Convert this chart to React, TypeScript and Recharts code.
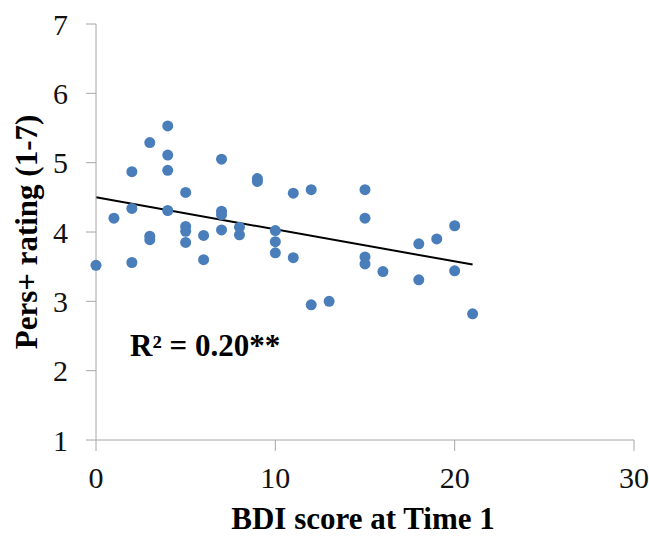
import {
  ScatterChart,
  Scatter,
  XAxis,
  YAxis,
  ReferenceLine,
  ReferenceDot,
  Label,
} from 'recharts';

// BDI score (x) and Pers+ rating (y)
const bdiScores = [
  0, 1, 2, 2, 2, 3, 3, 3, 4, 4, 4, 4, 5, 5, 5, 5, 6, 6, 7, 7, 7, 7, 8, 8, 9, 9,
  10, 10, 10, 11, 11, 12, 12, 13, 15, 15, 15, 15, 16, 18, 18, 19, 20, 20, 21,
];
const persRatings = [
  3.52, 4.2, 4.87, 4.34, 3.56, 5.29, 3.94, 3.89, 5.53, 5.11, 4.89, 4.31, 4.57,
  4.08, 4.01, 3.85, 3.95, 3.6, 5.05, 4.3, 4.25, 4.03, 4.07, 3.96, 4.77, 4.73,
  4.02, 3.86, 3.7, 4.56, 3.63, 4.61, 2.95, 3.0, 4.61, 4.2, 3.64, 3.54, 3.43,
  3.83, 3.31, 3.9, 4.09, 3.44, 2.82,
];

// linear trend line endpoints
const trendX = [0, 21];
const trendY = [4.5, 3.53];

const xTicks = [0, 10, 20, 30];
const yTicks = [1, 2, 3, 4, 5, 6, 7];

const annotationText = 'R² = 0.20**';
const annotationAt = { x: 1.9, y: 2.21 };

const FONT = '"Liberation Serif", "Times New Roman", serif';
const AXIS_GREY = '#a6a6a6';
const DOT_BLUE = '#4a7ebb';

const data = bdiScores.map((bdi, i) => ({ bdi, pers: persRatings[i] }));

function Dot(props: any) {
  return <circle cx={props.cx} cy={props.cy} r={5.5} fill={DOT_BLUE} />;
}

function XTitle(props: any) {
  const { x, y, width, height } = props.viewBox;
  return (
    <text
      x={x + width / 2 - 2}
      y={y + height - 8}
      textAnchor="middle"
      fontFamily={FONT}
      fontSize={31}
      fontWeight="bold"
      fill="#000"
    >
      BDI score at Time 1
    </text>
  );
}

function YTitle(props: any) {
  const { x, y, height } = props.viewBox;
  const cx = x + 37;
  const cy = y + height / 2;
  return (
    <text
      x={cx}
      y={cy}
      transform={`rotate(-90, ${cx}, ${cy})`}
      textAnchor="middle"
      fontFamily={FONT}
      fontSize={31}
      fontWeight="bold"
      fill="#000"
    >
      Pers+ rating (1-7)
    </text>
  );
}

function Annotation(props: any) {
  const { x, y } = props.viewBox;
  return (
    <text x={x} y={y} fontFamily={FONT} fontSize={31} fontWeight="bold" fill="#000">
      {annotationText}
    </text>
  );
}

export default function App() {
  const tickStyle = { fontFamily: FONT, fontSize: 30, fill: '#111' };
  return (
    <div style={{ position: 'absolute', left: 0, top: 0, background: '#fff' }}>
      <ScatterChart width={649} height={537} margin={{ top: 24, right: 15, bottom: 0, left: 0 }}>
        <XAxis
          type="number"
          dataKey="bdi"
          domain={[0, 30]}
          ticks={xTicks}
          height={97}
          tickSize={11}
          tickMargin={16}
          stroke={AXIS_GREY}
          tick={tickStyle}
          interval={0}
        >
          <Label content={XTitle} />
        </XAxis>
        <YAxis
          type="number"
          dataKey="pers"
          domain={[1, 7]}
          ticks={yTicks}
          width={96}
          tickSize={10}
          tickMargin={18}
          stroke={AXIS_GREY}
          tick={tickStyle}
          interval={0}
        >
          <Label content={YTitle} />
        </YAxis>
        <Scatter data={data} fill={DOT_BLUE} shape={Dot} isAnimationActive={false} />
        <ReferenceLine
          segment={[
            { x: trendX[0], y: trendY[0] },
            { x: trendX[1], y: trendY[1] },
          ]}
          stroke="#000"
          strokeWidth={2}
        />
        <ReferenceDot
          x={annotationAt.x}
          y={annotationAt.y}
          r={0}
          fill="none"
          stroke="none"
          label={<Annotation />}
        />
      </ScatterChart>
    </div>
  );
}
